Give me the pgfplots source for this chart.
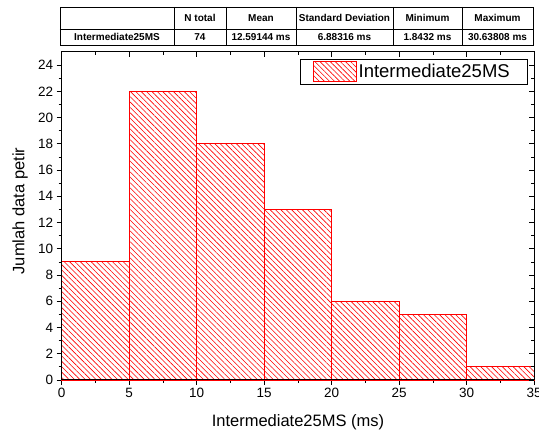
\documentclass[border=0pt]{standalone}
\usepackage{fontspec}
\setmainfont{Liberation Sans}
\usepackage{pgfplots}
\pgfplotsset{compat=1.18}
\usetikzlibrary{patterns.meta}
\begin{document}
\begin{tikzpicture}
\pgfplotsset{
  common/.style={
    scale only axis, width=472.5pt, height=328pt,
    at={(0pt,0pt)}, anchor=south west,
    xmin=0, xmax=35, ymin=0, ymax=25,
    xtick={0,5,...,35}, ytick={0,2,...,24},
    minor x tick num=1, minor y tick num=1,
    major tick length=5pt, minor tick length=3pt,
    tick style={black, line width=0.8pt},
    axis line style={black, line width=1pt},
    /pgf/number format/assume math mode=true,
    ticklabel style={font=\fontsize{13.5}{15}\selectfont},
    clip=false,
  }
}
\begin{axis}[common,
  tick align=outside, xtick pos=left, ytick pos=left,
  xlabel={Intermediate25MS (ms)}, ylabel={Jumlah data petir},
  label style={font=\fontsize{16.5}{18}\selectfont},
  xlabel style={at={(axis description cs:0.5,-0.128)}, anchor=center},
  ylabel style={at={(axis description cs:-0.088,0.515)}, anchor=center, rotate=0},
  legend style={at={(axis description cs:1,1)}, anchor=north east,
    xshift=-6.5pt, yshift=-7pt, draw=black, line width=0.8pt,
    font=\fontsize{18.5}{20}\selectfont, inner xsep=0.5pt, inner ysep=2pt,
    legend cell align=left},
  legend image code/.code={%
    \path (-12pt,0pt);
    \draw[red, line width=0.6pt, pattern={Lines[angle=-45,distance=3.6pt,line width=0.6pt]}, pattern color=red]
      (0pt,-10pt) rectangle (43pt,10pt);},
  legend style={/tikz/every even column/.append style={column sep=5pt}},
]
\addplot[ybar interval, draw=red, line width=0.9pt,
  pattern={Lines[angle=-45,distance=3.8pt,line width=0.6pt]}, pattern color=red]
  coordinates {(0,9) (5,22) (10,18) (15,13) (20,6) (25,5) (30,1) (35,1)};
\addlegendentry{Intermediate25MS\rule{15pt}{0pt}}
\end{axis}
\begin{axis}[common,
  tick align=inside, xtick pos=right, ytick pos=right,
  xticklabels={}, yticklabels={},
]
\end{axis}
% summary table (pixel coordinates of the reference)
\begin{scope}[x=1pt, y=-1pt, shift={(-61.7pt,380pt)}]
  \draw[black, line width=0.8pt] (60,7) rectangle (533,45);
  \draw[black, line width=0.8pt] (60,29) -- (533,29);
  \foreach \xx in {174,226,296,393,462}
    \draw[black, line width=0.8pt] (\xx,7) -- (\xx,45);
  \begin{scope}[every node/.style={font=\fontsize{10}{12}\selectfont\bfseries, inner sep=0pt, anchor=center}]
    \node at (200,18) {N total};
    \node at (261,18) {Mean};
    \node at (344.5,18) {Standard Deviation};
    \node at (427.5,18) {Minimum};
    \node at (497.5,18) {Maximum};
    \node at (117,37) {Intermediate25MS};
    \node at (200,37) {74};
    \node at (261,37) {12.59144 ms};
    \node at (344.5,37) {6.88316 ms};
    \node at (427.5,37) {1.8432 ms};
    \node at (497.5,37) {30.63808 ms};
  \end{scope}
\end{scope}
\pgfresetboundingbox
\path (-61.7pt,-54pt) rectangle (477.3pt,380pt);
\end{tikzpicture}
\end{document}
